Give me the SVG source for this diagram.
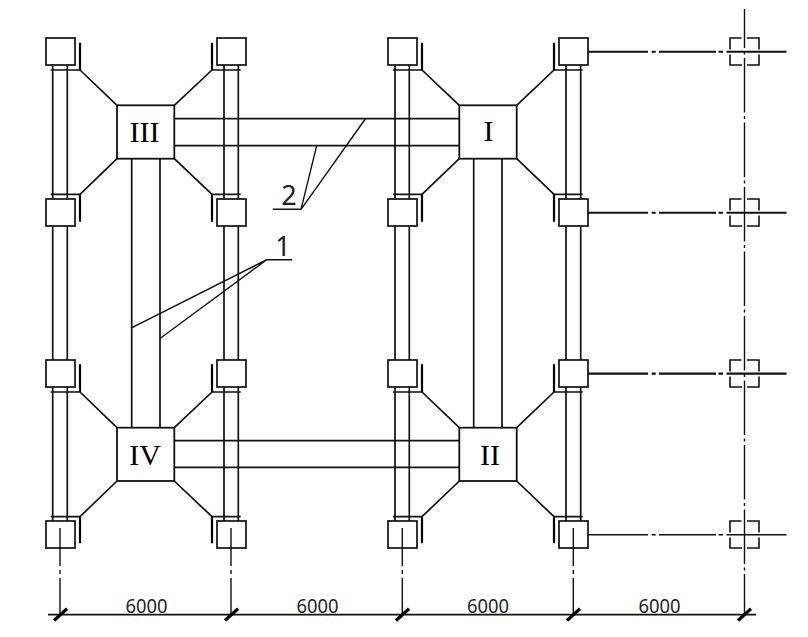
<svg xmlns="http://www.w3.org/2000/svg" width="808" height="637" viewBox="0 0 808 637">
<style>
.ln{fill:none;stroke:#111;stroke-width:1.7}
.thin{fill:none;stroke:#111;stroke-width:1.4}
.thick{fill:none;stroke:#000;stroke-width:2.2}
.ax{fill:none;stroke:#111;stroke-width:2;stroke-dasharray:60 3.7 4 3.3 57 2.5 4.5 3.5 60}
.tick{fill:none;stroke:#000;stroke-width:3.2}
.sq{fill:#fff;stroke:#111;stroke-width:1.7}
.pl{fill:#fff;stroke:#111;stroke-width:1.8}
.gh{fill:none;stroke:#111;stroke-width:1.6}
.r{font-family:"Liberation Serif",serif;font-size:30px;fill:#000;text-anchor:middle}
.d{font-family:"Noto Sans",sans-serif;font-size:19.500px;fill:#222;text-anchor:middle}
.l{font-family:"Noto Sans",sans-serif;font-size:27px;fill:#222;text-anchor:middle}
</style>
<rect width="808" height="637" fill="#fff"/>
<g id="connectors">
<g id="columns">
<path class="ln" d="M52.700 65V199M67.300 65V199M52.700 226V360M67.300 226V360M52.700 387V521M67.300 387V521"/>
<path class="ln" d="M224 65V199M238.300 65V199M224 226V360M238.300 226V360M224 387V521M238.300 387V521"/>
<path class="ln" d="M395 65V199M409.300 65V199M395 226V360M409.300 226V360M395 387V521M409.300 387V521"/>
<path class="ln" d="M566 65V199M580.700 65V199M566 226V360M580.700 226V360M566 387V521M580.700 387V521"/>
</g>
<g id="braces">
<path class="ln" d="M50.700 70H80M50.700 194.300H80M50.700 392H80M50.700 516.700H80"/>
<path class="ln" d="M212 70H240.700M212 194.300H240.700M212 392H240.700M212 516.700H240.700"/>
<path class="ln" d="M393 70H422M393 194.300H422M393 392H422M393 516.700H422"/>
<path class="ln" d="M554 70H582.700M554 194.300H582.700M554 392H582.700M554 516.700H582.700"/>
<path class="thick" d="M80 42.700V70M80 194.300V221.700M80 364.300V392M80 516.700V543.300"/>
<path class="thick" d="M212 42.700V70M212 194.300V221.700M212 364.300V392M212 516.700V543.300"/>
<path class="thick" d="M422 42.700V70M422 194.300V221.700M422 364.300V392M422 516.700V543.300"/>
<path class="thick" d="M554 42.700V70M554 194.300V221.700M554 364.300V392M554 516.700V543.300"/>
</g>
<g id="diagonals">
<path class="ln" d="M80 70L117 105.300M212 70L174.300 105.300M80 194.300L117 158.700M212 194.300L174.300 158.700"/>
<path class="ln" d="M422 70L459.300 105.300M554 70L516.700 105.300M422 194.300L459.300 158.700M554 194.300L516.700 158.700"/>
<path class="ln" d="M80 392L117 427.700M212 392L174.300 427.700M80 516.700L117 481M212 516.700L174.300 481"/>
<path class="ln" d="M422 392L459.300 427.700M554 392L516.700 427.700M422 516.700L459.300 481M554 516.700L516.700 481"/>
</g>
<g id="beams">
<path class="ln" d="M174.300 118.700H459.300M174.300 145.700H459.300M174.300 440.700H459.300M174.300 467.300H459.300"/>
<path class="ln" d="M131.700 158.700V427.700M160 158.700V427.700M473.700 158.700V427.700M502 158.700V427.700"/>
</g>
<g id="leaders">
<path class="thin" d="M292.300 259.700H266.700L132 327.700M266.700 259.700L160 338.500"/>
<path class="thin" d="M272.700 209.300H301L316.700 145.700M301 209.300L365.300 119"/>
</g>
</g>
<g id="col-r1-c1"><rect class="sq" x="46" y="38" width="29" height="27"/></g>
<g id="col-r1-c2"><rect class="sq" x="217" y="38" width="29" height="27"/></g>
<g id="col-r1-c3"><rect class="sq" x="388" y="38" width="29" height="27"/></g>
<g id="col-r1-c4"><rect class="sq" x="559" y="38" width="29" height="27"/></g>
<g id="col-r2-c1"><rect class="sq" x="46" y="199" width="29" height="27"/></g>
<g id="col-r2-c2"><rect class="sq" x="217" y="199" width="29" height="27"/></g>
<g id="col-r2-c3"><rect class="sq" x="388" y="199" width="29" height="27"/></g>
<g id="col-r2-c4"><rect class="sq" x="559" y="199" width="29" height="27"/></g>
<g id="col-r3-c1"><rect class="sq" x="46" y="360" width="29" height="27"/></g>
<g id="col-r3-c2"><rect class="sq" x="217" y="360" width="29" height="27"/></g>
<g id="col-r3-c3"><rect class="sq" x="388" y="360" width="29" height="27"/></g>
<g id="col-r3-c4"><rect class="sq" x="559" y="360" width="29" height="27"/></g>
<g id="col-r4-c1"><rect class="sq" x="46" y="521" width="29" height="27"/></g>
<g id="col-r4-c2"><rect class="sq" x="217" y="521" width="29" height="27"/></g>
<g id="col-r4-c3"><rect class="sq" x="388" y="521" width="29" height="27"/></g>
<g id="col-r4-c4"><rect class="sq" x="559" y="521" width="29" height="27"/></g>
<g id="node-III"><rect class="pl" x="117" y="105.300" width="57.300" height="53.400"/><text class="r" x="144.500" y="142">III</text></g>
<g id="node-I"><rect class="pl" x="459.300" y="105.300" width="57.400" height="53.400"/><text class="r" x="488.500" y="140.500">I</text></g>
<g id="node-IV"><rect class="pl" x="117" y="427.700" width="57.300" height="53.300"/><text class="r" x="145" y="465">IV</text></g>
<g id="node-II"><rect class="pl" x="459.300" y="427.700" width="57.400" height="53.300"/><text class="r" x="490" y="464.500">II</text></g>
<g id="axis-squares">
<path class="gh" d="M741.500 38H730V49.500M730 54.500V65H742M747 65H759V54.500M759 49.500V38H747"/>
<path class="gh" d="M741.500 199H730V210.500M730 215.500V226H742M747 226H759V215.500M759 210.500V199H747"/>
<path class="gh" d="M741.500 360H730V371.500M730 376.500V387H742M747 387H759V376.500M759 371.500V360H747"/>
<path class="gh" d="M741.500 521H730V532.500M730 537.500V548H742M747 548H759V537.500M759 532.500V521H747"/>
</g>
<g id="axes">
<path class="thin" stroke-dasharray="54.500 3.500 3 3.500" stroke-dashoffset="15.500" d="M744.500 9V615"/>
<path class="ax" d="M588 51.700H787.300"/>
<path class="ax" d="M588 212.700H787.300"/>
<path class="ax" style="stroke-width:2.300" d="M588 373.700H787.300"/>
<path class="ax" style="stroke-width:1.600" d="M588 534.700H787.300"/>
<path class="thin" stroke-dasharray="38 4 4 4 40" d="M60 528V615M231 528V615M402.300 528V615M573.300 528V615"/>
</g>
<g id="dimensions">
<path class="ln" d="M48 614.700H756"/>
<path class="tick" d="M54 620.500L67 608.700M225 620.500L238 608.700M396 620.500L409 608.700M567 620.500L580 608.700M738 620.500L751 608.700"/>
<text class="d" x="146.500" y="612.500" textLength="42" lengthAdjust="spacingAndGlyphs">6000</text>
<text class="d" x="317.500" y="612.500" textLength="42" lengthAdjust="spacingAndGlyphs">6000</text>
<text class="d" x="488" y="612.500" textLength="42" lengthAdjust="spacingAndGlyphs">6000</text>
<text class="d" x="659.500" y="612.500" textLength="42" lengthAdjust="spacingAndGlyphs">6000</text>
<text class="l" x="283" y="255.500">1</text>
<text class="l" x="289" y="204.500">2</text>
</g>
</svg>
